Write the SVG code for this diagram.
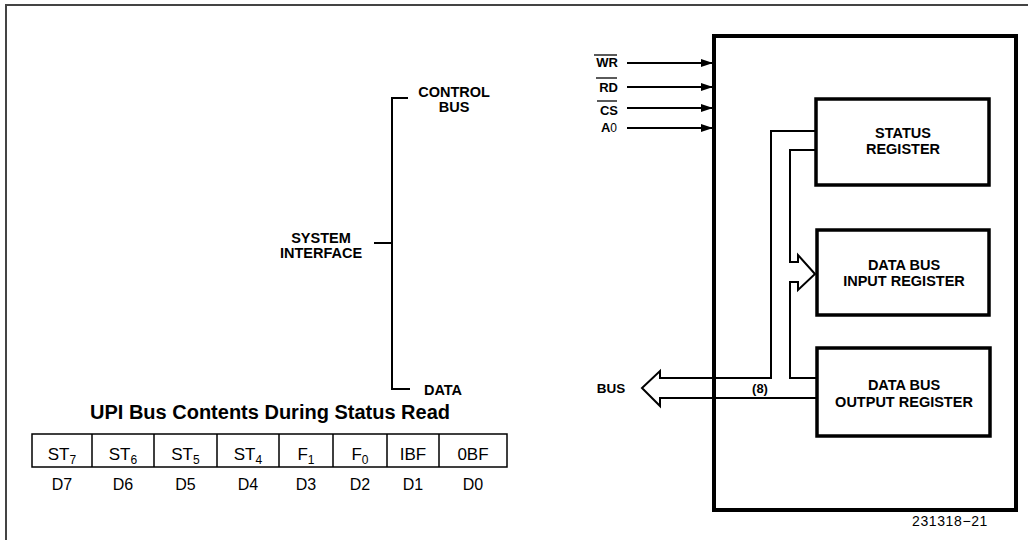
<svg xmlns="http://www.w3.org/2000/svg" width="1028" height="540" viewBox="0 0 1028 540">
<style>
text{font-family:"Liberation Sans",Arial,sans-serif;fill:#000}
.b{font-weight:bold;font-size:14.5px;text-anchor:middle}
.sig{font-weight:bold;font-size:13px;text-anchor:end}
.reg{fill:#fff;stroke:#000;stroke-width:3.5}
.w{fill:none;stroke:#000;stroke-width:2}
.cell{font-size:17px;text-anchor:middle}
.dl{font-size:16px;text-anchor:middle}
</style>
<defs>
<marker id="ah" markerWidth="12" markerHeight="8" refX="11" refY="4" orient="auto" markerUnits="userSpaceOnUse">
<path d="M0,0 L12,4 L0,8 z" fill="#000"/>
</marker>
</defs>
<rect width="1028" height="540" fill="#fff"/>
<!-- frame -->
<path d="M6,540 V5 H1028" fill="none" stroke="#444" stroke-width="2"/>

<!-- system interface bracket -->
<g id="system-interface">
<path d="M408,98 H392 V389 H410 M374,243 H392" class="w" stroke-width="1.8"/>
<text class="b" x="454" y="97">CONTROL</text>
<text class="b" x="454" y="112">BUS</text>
<text class="b" x="321" y="243">SYSTEM</text>
<text class="b" x="321" y="258">INTERFACE</text>
<text class="b" x="443" y="395">DATA</text>
</g>

<!-- title and table -->
<g id="status-table">
<text x="270" y="419" font-weight="bold" font-size="20" text-anchor="middle">UPI Bus Contents During Status Read</text>
<rect x="32" y="434" width="475" height="33" fill="none" stroke="#000" stroke-width="1.5"/>
<path d="M92,434 V467 M154,434 V467 M217,434 V467 M279,434 V467 M333,434 V467 M387,434 V467 M439,434 V467" stroke="#000" stroke-width="1.5"/>
<text class="cell" x="62" y="460">ST<tspan font-size="12" dy="4">7</tspan></text>
<text class="cell" x="123" y="460">ST<tspan font-size="12" dy="4">6</tspan></text>
<text class="cell" x="185.5" y="460">ST<tspan font-size="12" dy="4">5</tspan></text>
<text class="cell" x="248" y="460">ST<tspan font-size="12" dy="4">4</tspan></text>
<text class="cell" x="306" y="460">F<tspan font-size="12" dy="4">1</tspan></text>
<text class="cell" x="360" y="460">F<tspan font-size="12" dy="4">0</tspan></text>
<text class="cell" x="413" y="460">IBF</text>
<text class="cell" x="473" y="460">0BF</text>
<text class="dl" x="62" y="490">D7</text>
<text class="dl" x="123" y="490">D6</text>
<text class="dl" x="185.5" y="490">D5</text>
<text class="dl" x="248" y="490">D4</text>
<text class="dl" x="306" y="490">D3</text>
<text class="dl" x="360" y="490">D2</text>
<text class="dl" x="413" y="490">D1</text>
<text class="dl" x="473" y="490">D0</text>
</g>

<!-- connectors -->
<g id="connectors">
<path d="M627,63 H712" class="w" marker-end="url(#ah)"/>
<path d="M627,87 H712" class="w" marker-end="url(#ah)"/>
<path d="M627,108 H712" class="w" marker-end="url(#ah)"/>
<path d="M627,128 H712" class="w" marker-end="url(#ah)"/>
<!-- bus to status register and input register -->
<path d="M817,131 H771 V378 H660 V371 L642,388 L660,406 V398 H817" class="w"/>
<path d="M817,150 H790 V262 H798 V255 L815,274 L798,290 V282 H790 V378 H817" class="w"/>
</g>

<!-- chip box -->
<g id="upi-chip">
<rect x="714" y="36" width="302" height="474" fill="none" stroke="#000" stroke-width="4"/>
</g>

<!-- signal labels -->
<g id="signals">
<text class="sig" x="618" y="67">WR</text>
<path d="M594,55 H617" stroke="#000" stroke-width="1.3"/>
<text class="sig" x="618" y="92">RD</text>
<path d="M596,78 H617" stroke="#000" stroke-width="1.3"/>
<text class="sig" x="618" y="115">CS</text>
<path d="M597,101 H617" stroke="#000" stroke-width="1.3"/>
<text class="sig" x="617" y="132">A<tspan font-weight="normal" font-size="12">0</tspan></text>
</g>

<g id="status-register">
<rect class="reg" x="816" y="99" width="173" height="86"/>
<text class="b" x="903" y="138">STATUS</text>
<text class="b" x="903" y="154">REGISTER</text>
</g>
<g id="input-register">
<rect class="reg" x="817" y="230" width="172" height="85"/>
<text class="b" x="904" y="270">DATA BUS</text>
<text class="b" x="904" y="286">INPUT REGISTER</text>
</g>
<g id="output-register">
<rect class="reg" x="817" y="348" width="173" height="88"/>
<text class="b" x="904" y="390">DATA BUS</text>
<text class="b" x="904" y="407">OUTPUT REGISTER</text>
</g>

<g id="bus-labels">
<text x="611" y="393" font-weight="bold" font-size="13.5" text-anchor="middle">BUS</text>
<text x="760" y="393" font-weight="bold" font-size="13" text-anchor="middle">(8)</text>
</g>

<text x="950" y="526" font-size="14" text-anchor="middle" letter-spacing="0.6">231318−21</text>
</svg>
